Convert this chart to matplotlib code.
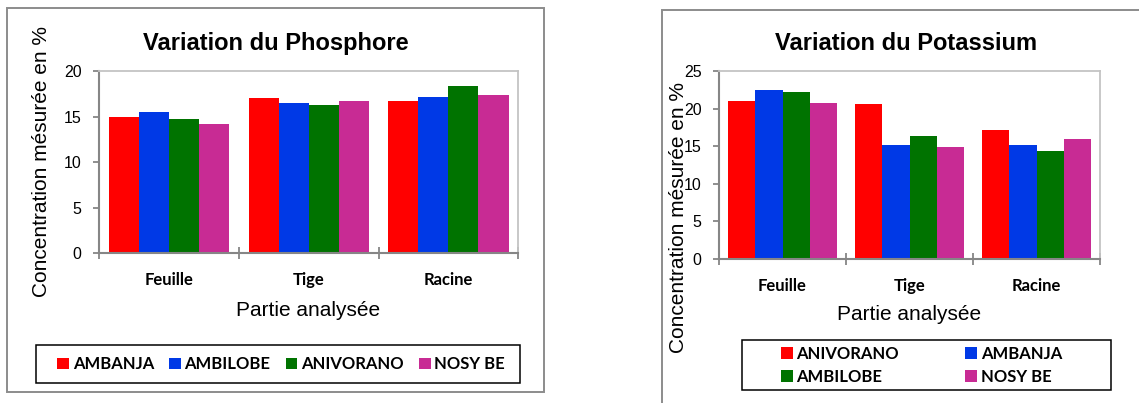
import numpy as np
import matplotlib
matplotlib.use("Agg")
import matplotlib.pyplot as plt
from matplotlib.patches import Rectangle

W, H = 1139, 403

parts = ["Feuille", "Tige", "Racine"]

# Phosphore (left chart)
p_sites = ["AMBANJA", "AMBILOBE", "ANIVORANO", "NOSY BE"]
p_ambanja = [14.9, 17.0, 16.7]
p_ambilobe = [15.55, 16.45, 17.1]
p_anivorano = [14.7, 16.3, 18.3]
p_nosybe = [14.15, 16.7, 17.4]

# Potassium (right chart), sites listed in another order
k_sites = ["ANIVORANO", "AMBANJA", "AMBILOBE", "NOSY BE"]
k_anivorano = [21.0, 20.6, 17.1]
k_ambanja = [22.5, 15.2, 15.1]
k_ambilobe = [22.25, 16.3, 14.4]
k_nosybe = [20.8, 14.9, 16.0]

colors = ["#ff0000", "#0039e6", "#007300", "#c82b94"]

SANS = "Liberation Sans"
CAL = "Lato"  # stands in for Calibri bold


def fx(px):
    return px / W


def fy(py):
    return 1 - py / H


def box(fig, x0, y0, x1, y1, color, lw):
    fig.add_artist(Rectangle((fx(x0), fy(y1)), (x1 - x0) / W, (y1 - y0) / H,
                             transform=fig.transFigure, fill=False,
                             edgecolor=color, linewidth=lw, clip_on=False))


def bar_chart(ax, series, ymax):
    x = np.arange(len(parts))
    w = 0.86 / len(series)
    bars = []
    for i, vals in enumerate(series):
        b = ax.bar(x + (i - 1.5) * w, vals, w, color=colors[i], linewidth=0)
        bars.append(b)
    ax.set_xlim(-0.5, len(parts) - 0.5)
    ax.set_ylim(0, ymax)
    ax.set_yticks(np.arange(0, ymax + 1, 5))
    ax.set_xticks(x)
    ax.set_xticklabels(parts, fontfamily=CAL, fontweight="bold", fontsize=12)
    ax.set_xticks(np.arange(-0.5, len(parts)), minor=True)
    ax.tick_params(axis="x", which="major", length=0, pad=13.5)
    ax.tick_params(axis="x", which="minor", direction="inout", length=8.5,
                   width=1.3, color="#868686")
    ax.tick_params(axis="y", length=4, width=1.3, color="#868686", pad=8.5,
                   labelsize=11.5)
    for lab in ax.get_yticklabels():
        lab.set_fontfamily(SANS)
    for s in ("left", "bottom"):
        ax.spines[s].set_color("#868686")
        ax.spines[s].set_linewidth(1.5)
    for s in ("top", "right"):
        ax.spines[s].set_color("#c4c4c4")
        ax.spines[s].set_linewidth(1.3)
    return bars


fig = plt.figure(figsize=(W / 100, H / 100), dpi=100)

# outer chart frames
box(fig, 7.3, 8.3, 544.3, 391.7, "#8c8c8c", 1.4)
box(fig, 661.7, 10, 1160, 430, "#8c8c8c", 1.4)

# left chart: phosphore
ax1 = fig.add_axes([fx(99), fy(253.3), 419.3 / W, (253.3 - 71) / H])
b1 = bar_chart(ax1, [p_ambanja, p_ambilobe, p_anivorano, p_nosybe], 20)
fig.text(fx(276), fy(43.3), "Variation du Phosphore", family=SANS,
         weight="bold", size=17, ha="center", va="center")
fig.text(fx(41.7), fy(161.7), "Concentration mésurée en %", family=SANS,
         size=15, rotation=90, ha="center", va="center")
fig.text(fx(308.5), fy(310), "Partie analysée", family=SANS, size=15,
         ha="center", va="center")
box(fig, 36, 345, 520, 383, "black", 1.1)
fig.legend([b[0] for b in b1], p_sites, ncol=4, mode="expand", loc="center",
           bbox_to_anchor=(fx(57.3), fy(364.2), (505 - 57.3) / W, 0),
           frameon=False, borderpad=0, borderaxespad=0,
           handlelength=0.7, handleheight=0.7, handletextpad=0.22,
           prop={"family": CAL, "weight": "bold", "size": 12})

# right chart: potassium
ax2 = fig.add_axes([fx(719), fy(259), 381 / W, 188 / H])
b2 = bar_chart(ax2, [k_anivorano, k_ambanja, k_ambilobe, k_nosybe], 25)
fig.text(fx(905.8), fy(43.3), "Variation du Potassium", family=SANS,
         weight="bold", size=17, ha="center", va="center")
fig.text(fx(678), fy(217.5), "Concentration mésurée en %", family=SANS,
         size=15, rotation=90, ha="center", va="center")
fig.text(fx(909.2), fy(315), "Partie analysée", family=SANS, size=15,
         ha="center", va="center")
box(fig, 741.7, 340, 1111.3, 390, "black", 1.1)
order = [0, 2, 1, 3]
fig.legend([b2[i][0] for i in order], [k_sites[i] for i in order], ncol=2,
           mode="expand", loc="center",
           bbox_to_anchor=(fx(781), fy(365.3), (1062 - 781) / W, 0),
           frameon=False, borderpad=0, borderaxespad=0, labelspacing=0.45,
           handlelength=0.7, handleheight=0.7, handletextpad=0.22,
           prop={"family": CAL, "weight": "bold", "size": 12})

fig.savefig("out.png", dpi=100)
